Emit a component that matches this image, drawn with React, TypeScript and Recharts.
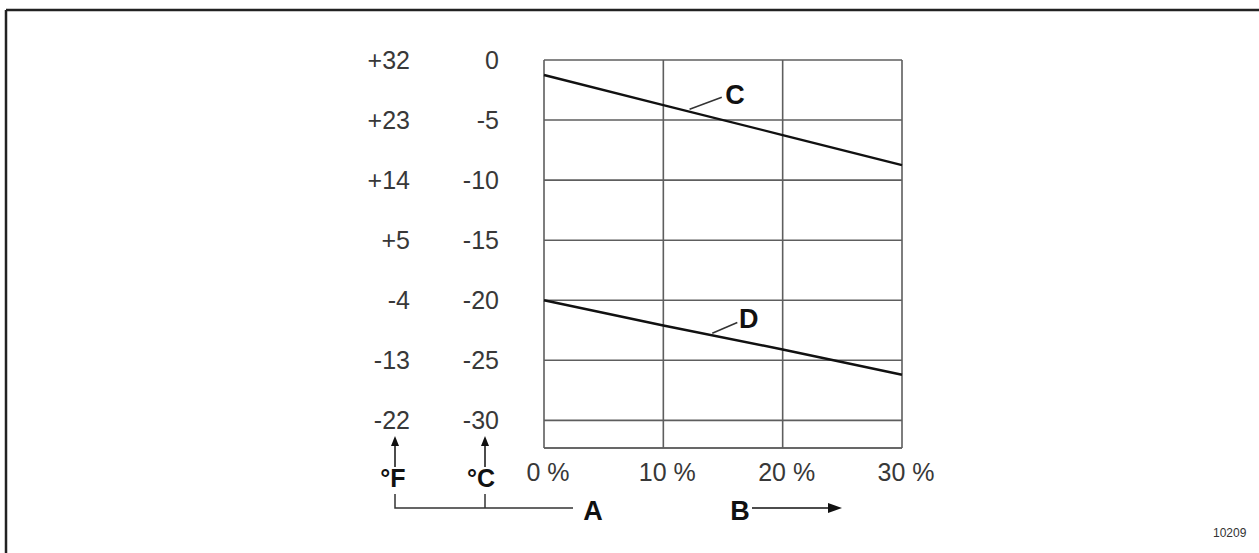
import { LineChart, Line, XAxis, YAxis, CartesianGrid, ReferenceLine, ReferenceDot } from 'recharts';

// x axis: percentage (B)
const PERCENT = [0, 10, 20, 30];
// freezing point curves, °C
const LINE_C = [-1.25, -3.75, -6.25, -8.75];
const LINE_D = [-20, -22.1, -24.1, -26.2];

const CELSIUS_TICKS = [0, -5, -10, -15, -20, -25, -30];
const FAHRENHEIT_TICKS = [32, 23, 14, 5, -4, -13, -22];
const CELSIUS_DOMAIN = [-32.3, 0];

const toF = (c: number) => c * 1.8 + 32;

const chartData = PERCENT.map((p, i) => ({ pct: p, c: LINE_C[i], d: LINE_D[i] }));

const GRID = '#5e5e5e';
const INK = '#111';
const LABEL = '#383838';

function Overlay() {
    const bold = { fontWeight: 700, fontSize: 25, fill: INK };
    return (
        <svg width={1259} height={553} style={{ position: 'absolute', left: 0, top: 0, pointerEvents: 'none' }}>
            {/* frame */}
            <line x1={6} y1={10} x2={1259} y2={10} stroke="#222" strokeWidth={2.5} />
            <line x1={6} y1={10} x2={6} y2={553} stroke="#222" strokeWidth={2.5} />

            {/* unit arrows */}
            <line x1={395} y1={446} x2={395} y2={467} stroke={INK} strokeWidth={1.5} />
            <polygon points="395,436 391,446 399,446" fill={INK} />
            <line x1={485} y1={446} x2={485} y2={467} stroke={INK} strokeWidth={1.5} />
            <polygon points="485,436 481,446 489,446" fill={INK} />
            <text x={393} y={478} textAnchor="middle" dominantBaseline="central" {...bold}>°F</text>
            <text x={481} y={478} textAnchor="middle" dominantBaseline="central" {...bold}>°C</text>

            {/* bracket A */}
            <polyline points="395,494 395,508 573,508" fill="none" stroke="#333" strokeWidth={1.5} />
            <line x1={485} y1={494} x2={485} y2={508} stroke="#333" strokeWidth={1.5} />
            <text x={593} y={511} textAnchor="middle" dominantBaseline="central" {...bold} fontSize={27}>A</text>

            {/* B arrow */}
            <text x={740} y={511} textAnchor="middle" dominantBaseline="central" {...bold} fontSize={27}>B</text>
            <line x1={752} y1={508} x2={830} y2={508} stroke={INK} strokeWidth={1.5} />
            <polygon points="842,508 828,503 828,513" fill={INK} />

            <text x={1213} y={537} fontSize={12} fill="#333">10209</text>
        </svg>
    );
}

export default function App() {
    return (
        <div
            style={{
                position: 'absolute',
                left: 0,
                top: 0,
                width: 1259,
                height: 553,
                overflow: 'hidden',
                background: '#fff',
                fontFamily: '"Liberation Sans", Arial, sans-serif',
            }}
        >
            <LineChart width={1259} height={553} data={chartData} margin={{ top: 60, right: 357, bottom: 65, left: 394 }}>
                <CartesianGrid stroke={GRID} strokeWidth={1.6} />
                <XAxis
                    dataKey="pct"
                    type="number"
                    domain={[0, 30]}
                    ticks={PERCENT}
                    tickFormatter={(v) => `${v} %`}
                    height={40}
                    stroke={GRID}
                    strokeWidth={1.6}
                    tickLine={false}
                    tickSize={0}
                    tickMargin={15}
                    tick={{ fill: LABEL, fontSize: 25, dx: 4 }}
                />
                <YAxis
                    type="number"
                    domain={CELSIUS_DOMAIN}
                    ticks={CELSIUS_TICKS}
                    allowDataOverflow
                    width={60}
                    axisLine={false}
                    tickLine={false}
                    tickSize={0}
                    tickMargin={45}
                    tick={{ fill: LABEL, fontSize: 25 }}
                />
                <YAxis
                    yAxisId="f"
                    type="number"
                    domain={[toF(CELSIUS_DOMAIN[0]), toF(CELSIUS_DOMAIN[1])]}
                    ticks={FAHRENHEIT_TICKS}
                    tickFormatter={(v) => (v > 0 ? `+${v}` : `${v}`)}
                    allowDataOverflow
                    width={90}
                    axisLine={false}
                    tickLine={false}
                    tickSize={0}
                    tickMargin={74}
                    tick={{ fill: LABEL, fontSize: 25 }}
                />
                <Line type="linear" dataKey="c" stroke={INK} strokeWidth={2.4} dot={false} isAnimationActive={false} />
                <Line type="linear" dataKey="d" stroke={INK} strokeWidth={2.4} dot={false} isAnimationActive={false} />

                {/* curve labels with leader lines */}
                <ReferenceLine segment={[{ x: 12.2, y: -4.1 }, { x: 14.9, y: -3.1 }]} stroke="#333" strokeWidth={1.5} />
                <ReferenceDot x={16} y={-2.85} r={0} fill="none" stroke="none"
                    label={{ value: 'C', position: 'center', fontSize: 27, fontWeight: 700, fill: INK }} />
                <ReferenceLine segment={[{ x: 14.1, y: -22.75 }, { x: 16.2, y: -21.85 }]} stroke="#333" strokeWidth={1.5} />
                <ReferenceDot x={17.15} y={-21.5} r={0} fill="none" stroke="none"
                    label={{ value: 'D', position: 'center', fontSize: 27, fontWeight: 700, fill: INK }} />
            </LineChart>
            <Overlay />
        </div>
    );
}
